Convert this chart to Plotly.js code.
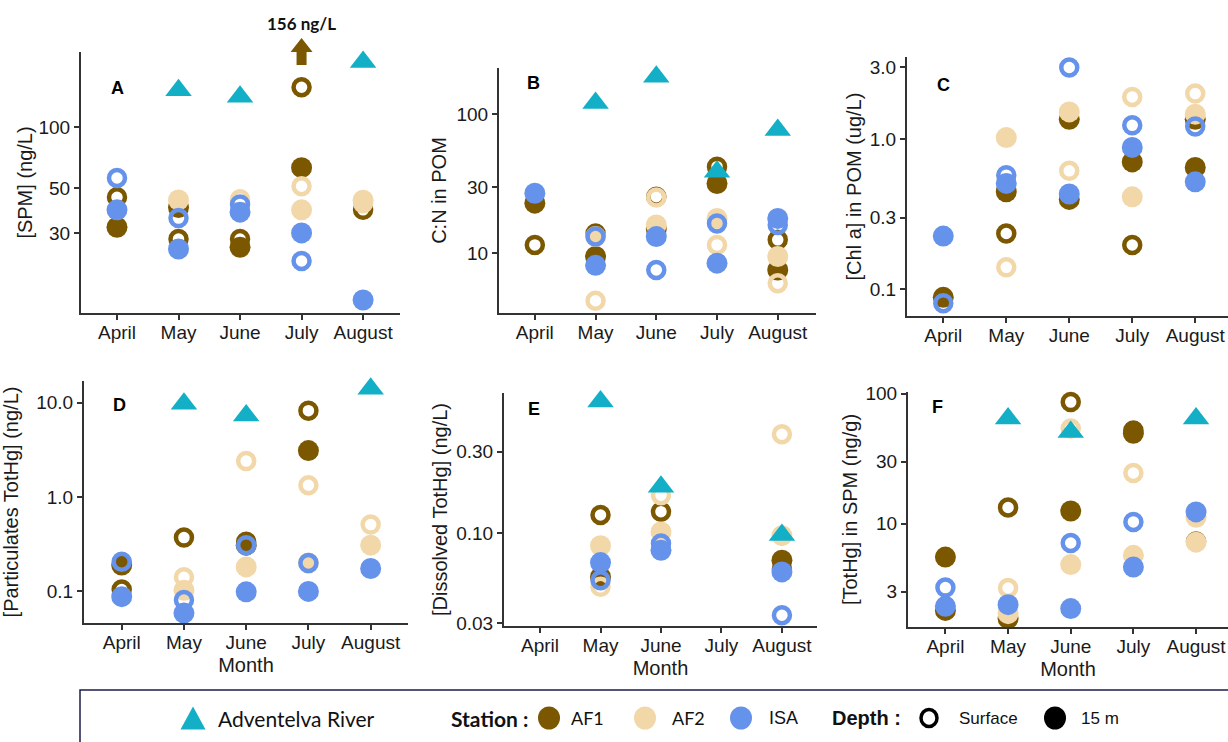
<!DOCTYPE html>
<html>
<head>
<meta charset="utf-8">
<script src="https://cdn.plot.ly/plotly-3.0.1.min.js"></script>
<style>
  html, body { margin: 0; padding: 0; background: #ffffff; }
  #chart { width: 1228px; height: 742px; }
</style>
</head>
<body>
<div id="chart"></div>
<script>
// ---------------- DATA ----------------
const months = ["April", "May", "June", "July", "August"];

// Panel A : [SPM] (ng/L)   (one list of values per month)
const spmRiver       = [[], [152], [141], [], [209]];
const spmAF1Surface  = [[45], [28], [28], [157], [39]];
const spmAF1Deep     = [[32], [40], [25.5], [63], []];
const spmAF2Surface  = [[], [], [44], [51], [42]];
const spmAF2Deep     = [[], [43.6], [], [39], [43.5]];
const spmISASurface  = [[56], [35.5], [41.5], [21.8], []];
const spmISADeep     = [[39], [25], [38], [30], [14]];
const spmTicks       = [30, 50, 100];
const spmTickText    = ["30", "50", "100"];

// Panel B : C:N in POM
const cnRiver        = [[], [120], [185], [38.5], [76.7]];
const cnAF1Surface   = [[11.5], [13.9], [25.5], [41.9], [12.5]];
const cnAF1Deep      = [[22.9], [9.5], [15], [31.7], [7.6]];
const cnAF2Surface   = [[], [4.57], [25.2], [11.5], [6.1]];
const cnAF2Deep      = [[], [13.2], [16], [17.8], [9.5]];
const cnISASurface   = [[], [13.2], [7.6], [16.4], [16]];
const cnISADeep      = [[27], [8.2], [13.2], [8.5], [17.8]];
const cnTicks        = [10, 30, 100];
const cnTickText     = ["10", "30", "100"];

// Panel C : [Chl a] in POM (ug/L)
const chlRiver       = [[], [], [], [], []];
const chlAF1Surface  = [[], [0.235], [], [0.197], []];
const chlAF1Deep     = [[0.0885], [0.445], [1.35, 0.396], [0.703], [1.35, 0.646]];
const chlAF2Surface  = [[], [0.14], [0.613], [1.9], [2.0]];
const chlAF2Deep     = [[], [1.02], [1.51], [0.412], [1.46]];
const chlISASurface  = [[0.081], [0.574], [2.98], [1.23], [1.21]];
const chlISADeep     = [[0.226], [0.506], [0.43], [0.877], [0.518]];
const chlTicks       = [0.1, 0.3, 1, 3];
const chlTickText    = ["0.1", "0.3", "1.0", "3.0"];

// Panel D : [Particulates TotHg] (ng/L)
const pHgRiver       = [[], [9.7], [7.3], [], [14]];
const pHgAF1Surface  = [[0.105], [0.372], [0.335], [8.2], []];
const pHgAF1Deep     = [[0.19], [], [0.309], [3.1], []];
const pHgAF2Surface  = [[], [0.141], [2.4], [1.33], [0.51]];
const pHgAF2Deep     = [[], [0.103], [0.182], [0.2], [0.309]];
const pHgISASurface  = [[0.206], [0.081], [0.309], [0.2], []];
const pHgISADeep     = [[0.088], [0.059], [0.099], [0.1], [0.175]];
const pHgTicks       = [0.1, 1, 10];
const pHgTickText    = ["0.1", "1.0", "10.0"];

// Panel E : [Dissolved TotHg] (ng/L)
const dHgRiver       = [[], [0.589], [0.187], [], [0.098]];
const dHgAF1Surface  = [[], [0.128], [0.134], [], [0.062]];
const dHgAF1Deep     = [[], [0.0557], [], [], [0.0698]];
const dHgAF2Surface  = [[], [0.0488], [0.167], [], [0.379]];
const dHgAF2Deep     = [[], [0.0847], [0.102], [], [0.097]];
const dHgISASurface  = [[], [0.0533], [0.0874], [], [0.0333]];
const dHgISADeep     = [[], [0.0676], [0.0798], [], [0.0596]];
const dHgTicks       = [0.03, 0.1, 0.3];
const dHgTickText    = ["0.03", "0.10", "0.30"];

// Panel F : [TotHg] in SPM (ng/g)
const sHgRiver       = [[], [64.3], [50.7], [], [64.3]];
const sHgAF1Surface  = [[], [13.3], [86], [52], [7.3]];
const sHgAF1Deep     = [[5.53, 2.15], [1.86], [12.5], [49.5], []];
const sHgAF2Surface  = [[], [3.2], [53.8], [24.5], []];
const sHgAF2Deep     = [[], [2.03], [4.84], [5.7], [11.2, 7.2]];
const sHgISASurface  = [[3.22], [], [7.1], [10.3], []];
const sHgISADeep     = [[2.31], [2.38], [2.22], [4.63], [12.3]];
const sHgTicks       = [3, 10, 30, 100];
const sHgTickText    = ["3", "10", "30", "100"];

const panelLetters = ["A", "B", "C", "D", "E", "F"];
const yTitles = ["[SPM] (ng/L)", "C:N in POM", "[Chl a] in POM (ug/L)",
                 "[Particulates TotHg] (ng/L)", "[Dissolved TotHg] (ng/L)", "[TotHg] in SPM (ng/g)"];
const offScaleLabel = "156 ng/L";
const legendRiver = "Adventelva River";
const legendStationTitle = "Station :";
const legendStations = ["AF1", "AF2", "ISA"];
const legendDepthTitle = "Depth :";
const legendDepths = ["Surface", "15 m"];

// ---------------- STYLE ----------------
const W = 1228, H = 742;
const COL = { AF1: "#7B5700", AF2: "#F2D7A9", ISA: "#6592EA", RIVER: "#12AFC6" };
const AXC = "#333333";
const px = v => v / W;
const py = v => 1 - v / H;

const panels = [
  { data: [spmAF1Surface, spmAF1Deep, spmAF2Surface, spmAF2Deep, spmISASurface, spmISADeep, spmRiver],
    ticks: spmTicks, tt: spmTickText, box: [81, 400, 52, 313], yr: [1.082, 2.37], xr: [-0.585, 4.6],
    letter: [117, 88], standoff: 0, month: false },
  { data: [cnAF1Surface, cnAF1Deep, cnAF2Surface, cnAF2Deep, cnISASurface, cnISADeep, cnRiver],
    ticks: cnTicks, tt: cnTickText, box: [499, 816, 68, 313], yr: [0.572, 2.33], xr: [-0.59, 4.63],
    letter: [533, 83], standoff: 4, month: false },
  { data: [chlAF1Surface, chlAF1Deep, chlAF2Surface, chlAF2Deep, chlISASurface, chlISADeep, chlRiver],
    ticks: chlTicks, tt: chlTickText, box: [907, 1228, 57, 316], yr: [-1.177, 0.544], xr: [-0.576, 4.52],
    letter: [943, 85], standoff: 3, month: false },
  { data: [pHgAF1Surface, pHgAF1Deep, pHgAF2Surface, pHgAF2Deep, pHgISASurface, pHgISADeep, pHgRiver],
    ticks: pHgTicks, tt: pHgTickText, box: [84, 408, 381, 623], yr: [-1.334, 1.228], xr: [-0.606, 4.6],
    letter: [119, 405], standoff: 15, month: true },
  { data: [dHgAF1Surface, dHgAF1Deep, dHgAF2Surface, dHgAF2Deep, dHgISASurface, dHgISADeep, dHgRiver],
    ticks: dHgTicks, tt: dHgTickText, box: [504, 817, 393, 626], yr: [-1.54, -0.181], xr: [-0.596, 4.58],
    letter: [534, 409], standoff: 3, month: true },
  { data: [sHgAF1Surface, sHgAF1Deep, sHgAF2Surface, sHgAF2Deep, sHgISASurface, sHgISADeep, sHgRiver],
    ticks: sHgTicks, tt: sHgTickText, box: [908, 1228, 392, 627], yr: [0.205, 2.012], xr: [-0.597, 4.51],
    letter: [937, 407], standoff: 2, month: true }
];

const seriesStyle = [
  { name: "AF1 Surface", color: COL.AF1, open: true },
  { name: "AF1 15 m", color: COL.AF1, open: false },
  { name: "AF2 Surface", color: COL.AF2, open: true },
  { name: "AF2 15 m", color: COL.AF2, open: false },
  { name: "ISA Surface", color: COL.ISA, open: true },
  { name: "ISA 15 m", color: COL.ISA, open: false },
  { name: "Adventelva River", color: COL.RIVER, river: true }
];

function flatten(perMonth) {
  const x = [], y = [];
  perMonth.forEach((vals, i) => vals.forEach(v => { x.push(months[i]); y.push(v); }));
  return { x, y };
}

const traces = [];
const layout = {
  width: W, height: H,
  margin: { l: 0, r: 0, t: 0, b: 0 },
  paper_bgcolor: "#ffffff", plot_bgcolor: "rgba(0,0,0,0)",
  showlegend: false,
  font: { family: "Liberation Sans, Arial, sans-serif", color: "#1a1a1a" },
  annotations: [], shapes: []
};

panels.forEach((p, k) => {
  const n = k + 1;
  const xa = "x" + (n === 1 ? "" : n), ya = "y" + (n === 1 ? "" : n);
  p.data.forEach((d, s) => {
    const st = seriesStyle[s];
    const f = flatten(d);
    const marker = st.river
      ? { symbol: "triangle-up", size: 23, color: st.color, line: { width: 0 } }
      : st.open
        ? { symbol: "circle-open", size: 16, color: st.color, line: { width: 4.5, color: st.color } }
        : { symbol: "circle", size: 21, color: st.color, line: { width: 0 } };
    traces.push({ type: "scatter", mode: "markers", name: st.name, x: f.x, y: f.y,
                  xaxis: xa, yaxis: ya, marker: marker, cliponaxis: false, hoverinfo: "x+y+name" });
  });
  const [x0, x1, y0, y1] = p.box;
  layout["xaxis" + (n === 1 ? "" : n)] = {
    domain: [px(x0), px(x1)], anchor: ya, type: "category", categoryorder: "array",
    categoryarray: months, range: p.xr, showline: true, linecolor: AXC, linewidth: 2,
    ticks: "outside", ticklen: 5, tickwidth: 2, tickcolor: AXC, showgrid: false, zeroline: false,
    ticklabelstandoff: -4,
    tickfont: { size: 19, color: "#1a1a1a" },
    title: p.month ? { text: "Month", font: { size: 20, color: "#1a1a1a" }, standoff: 6 } : { text: "" }
  };
  layout["yaxis" + (n === 1 ? "" : n)] = {
    domain: [py(y1), py(y0)], anchor: xa, type: "log", range: p.yr,
    tickvals: p.ticks, ticktext: p.tt, showline: true, linecolor: AXC, linewidth: 2,
    ticks: "outside", ticklen: 5, tickwidth: 2, tickcolor: AXC, showgrid: false, zeroline: false,
    tickfont: { size: 19, color: "#1a1a1a" },
    title: { text: yTitles[k], font: { size: 20, color: "#1a1a1a" }, standoff: p.standoff }
  };
  layout.annotations.push({
    xref: "paper", yref: "paper", x: px(p.letter[0]), y: py(p.letter[1]),
    text: "<b>" + panelLetters[k] + "</b>", showarrow: false, xanchor: "center", yanchor: "middle",
    font: { family: "Liberation Sans, Arial, sans-serif", size: 18, color: "#000" }
  });
});

// off-scale note in panel A
layout.annotations.push({
  xref: "paper", yref: "paper", x: px(301), y: py(23), text: "<b>" + offScaleLabel + "</b>",
  showarrow: false, xanchor: "center", yanchor: "middle",
  font: { family: "Lato, sans-serif", size: 17, color: "#111" }
});
layout.shapes.push({
  type: "path", xref: "x", yref: "paper", xsizemode: "pixel", ysizemode: "pixel",
  xanchor: 3, yanchor: py(65),
  path: "M-5,0 L-5,13 L-11,13 L0,27 L11,13 L5,13 L5,0 Z",
  fillcolor: COL.AF1, line: { width: 0 }
});

// ---------------- LEGEND (drawn as shapes + text) ----------------
const LY = 718;
layout.shapes.push({ type: "rect", xref: "paper", yref: "paper",
  x0: px(80), x1: px(1240), y0: py(750), y1: py(690), line: { color: "#1c1c4a", width: 1.5 }, fillcolor: "rgba(0,0,0,0)" });
layout.shapes.push({ type: "path", xref: "paper", yref: "paper", xsizemode: "pixel", ysizemode: "pixel",
  xanchor: px(193), yanchor: py(LY), path: "M-12.5,-11.5 L12.5,-11.5 L0,11.5 Z", fillcolor: COL.RIVER, line: { width: 0 } });
function legCircle(cx, color, open) {
  layout.shapes.push({ type: "circle", xref: "paper", yref: "paper", xsizemode: "pixel", ysizemode: "pixel",
    xanchor: px(cx), yanchor: py(LY),
    x0: open ? -8 : -11, x1: open ? 8 : 11, y0: open ? -8.5 : -11.5, y1: open ? 8.5 : 11.5,
    fillcolor: open ? "rgba(0,0,0,0)" : color, line: { color: color, width: open ? 3.5 : 0 } });
}
function legText(x, text, size, family, bold) {
  layout.annotations.push({ xref: "paper", yref: "paper", x: px(x), y: py(LY), xanchor: "left", yanchor: "middle",
    showarrow: false, text: bold ? "<b>" + text + "</b>" : text, font: { family: family, size: size, color: "#111" } });
}
legText(216, legendRiver, 21, "Lato, sans-serif", false);
legText(449, legendStationTitle, 21, "Lato, sans-serif", true);
legCircle(549, COL.AF1, false);
legText(569, legendStations[0], 18, "Lato, sans-serif", false);
legCircle(645, COL.AF2, false);
legText(670, legendStations[1], 18, "Lato, sans-serif", false);
legCircle(741, COL.ISA, false);
legText(767, legendStations[2], 18, "Liberation Sans, Arial, sans-serif", false);
legText(830, legendDepthTitle, 20, "Liberation Sans, Arial, sans-serif", true);
legCircle(929, "#000000", true);
legText(957, legendDepths[0], 17, "Liberation Sans, Arial, sans-serif", false);
legCircle(1055, "#000000", false);
legText(1079, legendDepths[1], 17, "Liberation Sans, Arial, sans-serif", false);

Plotly.newPlot("chart", traces, layout, { displayModeBar: false, staticPlot: true });
</script>
</body>
</html>
